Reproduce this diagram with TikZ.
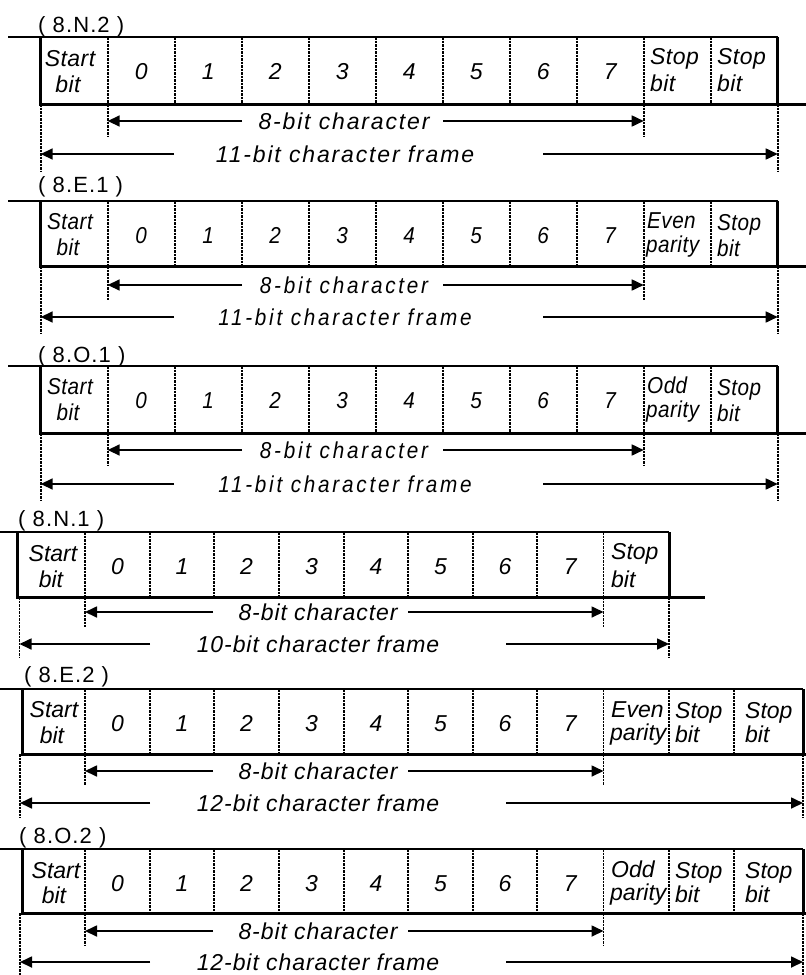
\documentclass[tikz,border=0pt]{standalone}
\usepackage{fontspec}
\setmainfont{Liberation Sans}
\newfontfamily\cellA{Liberation Sans}[LetterSpace=2]
\newfontfamily\arrA{Liberation Sans}[LetterSpace=8]
\newfontfamily\cellB{Liberation Sans}[FakeStretch=0.9,LetterSpace=2]
\newfontfamily\arrB{Liberation Sans}[FakeStretch=0.9,LetterSpace=12]
\newfontfamily\cellC{Liberation Sans}
\newfontfamily\arrC{Liberation Sans}[LetterSpace=4]
\newfontfamily\labF{Liberation Sans}[LetterSpace=5]
\usetikzlibrary{arrows.meta}
\tikzset{
  topline/.style={line width=2pt},
  boxline/.style={line width=3pt},
  divider/.style={line width=1.7pt, dash pattern=on 2.5pt off 1pt},
  arr/.style={line width=1.7pt, -{Triangle[length=12pt,width=11pt]}},
  lbl/.style={anchor=base west, inner sep=0pt, font=\labF\fontsize{22}{24}\selectfont},
  txt/.style={inner sep=0pt, font=\cf},
  atxt/.style={inner sep=0pt, font=\af, anchor=base},
}
\def\cf{\cellA\itshape\fontsize{23}{26}\selectfont}
\def\af{\arrA\itshape\fontsize{23}{26}\selectfont}
\newcommand\digitrow[3]{%
  \foreach \x [remember=\x as \px (initially 0), count=\k] in {#2} {%
    \ifnum\k>2
      \pgfmathtruncatemacro\dg{\k-3}%
      \node[txt, anchor=base] (#1d\dg) at ({(\px+\x)/2}, #3+42.5) {\dg};%
    \fi
  }}
% #1 name, #2 y, #3 left tip x, #4 right tip x, #5 left line start, #6 right line start, #7 text x, #8 text
\newcommand\arrowrow[8]{%
  \node[atxt] (#1t) at (#7, #2+8) {#8};
  \coordinate (#1l) at (#3,#2); \coordinate (#1r) at (#4,#2);
  \coordinate (#1gl) at (#5,#2); \coordinate (#1gr) at (#6,#2);
  \draw[arr] (#1gl) -- (#1l);
  \draw[arr] (#1gr) -- (#1r);
}
% #1 name, #2 in x, #3 L, #4 R, #5 out x, #6 top, #7 bottom
\newcommand\frameline[7]{%
  \coordinate (#1in) at (#2,#6); \coordinate (#1tl) at (#3,#6); \coordinate (#1tr) at (#4,#6);
  \coordinate (#1bl) at (#3,#7); \coordinate (#1br) at (#4,#7); \coordinate (#1out) at (#5,#7);
  \draw[topline] (#1in) -- (#1tr);
  \draw[boxline] (#1tl) -- (#1bl) -- (#1out);
  \draw[boxline] (#1tr) -- (#1br);
}
\begin{document}
\begin{tikzpicture}[x=1pt,y=-1pt]
\useasboundingbox[fill=white] (0,0) rectangle (806,975);

%% ---------------- (8.N.2)
\node[lbl] (s1lab) at (38,32) {( 8.N.2 )};
\frameline{s1}{8}{40.7}{777.7}{806}{37}{104}
\foreach \x in {107.7,174.7,241.7,308.7,375.7,442.7,509.7,576.7,643.7,710.7}
  \draw[divider] (\x,37) -- (\x,104);
\draw[divider] (107.7,104) -- (107.7,136);
\draw[divider] (643.7,104) -- (643.7,136);
\draw[divider] (40.7,104) -- (40.7,171);
\draw[divider] (777.7,104) -- (777.7,171);
\node[txt,anchor=base] (s1st) at (70,66) {Start};
\node[txt,anchor=base] (s1sb) at (68,92) {bit};
\digitrow{s1}{40.7,107.7,174.7,241.7,308.7,375.7,442.7,509.7,576.7,643.7}{37}
\node[txt,anchor=base west] (s1p1) at (650,64) {Stop};
\node[txt,anchor=base west] (s1p2) at (650,91) {bit};
\node[txt,anchor=base west] (s1q1) at (717,64) {Stop};
\node[txt,anchor=base west] (s1q2) at (717,91) {bit};
\arrowrow{s1e}{121}{107.7}{643.7}{242}{443}{344}{8-bit character}
\arrowrow{s1f}{154}{40.7}{777.7}{174}{543}{345}{11-bit character frame}

%% ---------------- (8.E.1)
\def\cf{\cellB\itshape\fontsize{23}{26}\selectfont}
\def\af{\arrB\itshape\fontsize{23}{26}\selectfont}
\node[lbl] (s2lab) at (38,192) {( 8.E.1 )};
\frameline{s2}{8}{40.7}{777.7}{806}{201}{266}
\foreach \x in {107.7,174.7,241.7,308.7,375.7,442.7,509.7,576.7,643.7,710.7}
  \draw[divider] (\x,201) -- (\x,266);
\draw[divider] (107.7,266) -- (107.7,300);
\draw[divider] (643.7,266) -- (643.7,300);
\draw[divider] (40.7,266) -- (40.7,334);
\draw[divider] (777.7,266) -- (777.7,334);
\node[txt,anchor=base] (s2st) at (70,229) {Start};
\node[txt,anchor=base] (s2sb) at (68,255) {bit};
\digitrow{s2}{40.7,107.7,174.7,241.7,308.7,375.7,442.7,509.7,576.7,643.7}{201}
\node[txt,anchor=base west] (s2p1) at (647,228) {Even};
\node[txt,anchor=base west] (s2p2) at (646,252) {parity};
\node[txt,anchor=base west] (s2q1) at (717,230) {Stop};
\node[txt,anchor=base west] (s2q2) at (717,256) {bit};
\arrowrow{s2e}{285}{107.7}{643.7}{242}{443}{344}{8-bit character}
\arrowrow{s2f}{317}{40.7}{777.7}{174}{543}{345}{11-bit character frame}

%% ---------------- (8.O.1)
\node[lbl] (s3lab) at (38,362) {( 8.O.1 )};
\frameline{s3}{8}{40.7}{777.7}{806}{366}{433}
\foreach \x in {107.7,174.7,241.7,308.7,375.7,442.7,509.7,576.7,643.7,710.7}
  \draw[divider] (\x,366) -- (\x,433);
\draw[divider] (107.7,433) -- (107.7,465);
\draw[divider] (643.7,433) -- (643.7,465);
\draw[divider] (40.7,433) -- (40.7,501);
\draw[divider] (777.7,433) -- (777.7,501);
\node[txt,anchor=base] (s3st) at (70,394) {Start};
\node[txt,anchor=base] (s3sb) at (68,420) {bit};
\digitrow{s3}{40.7,107.7,174.7,241.7,308.7,375.7,442.7,509.7,576.7,643.7}{366}
\node[txt,anchor=base west] (s3p1) at (647,393) {Odd};
\node[txt,anchor=base west] (s3p2) at (646,417) {parity};
\node[txt,anchor=base west] (s3q1) at (717,395) {Stop};
\node[txt,anchor=base west] (s3q2) at (717,421) {bit};
\arrowrow{s3e}{450}{107.7}{643.7}{242}{443}{344}{8-bit character}
\arrowrow{s3f}{484}{40.7}{777.7}{174}{543}{345}{11-bit character frame}

%% ---------------- (8.N.1)
\def\cf{\cellC\itshape\fontsize{23}{26}\selectfont}
\def\af{\arrC\itshape\fontsize{23}{26}\selectfont}
\node[lbl] (s4lab) at (18,526) {( 8.N.1 )};
\frameline{s4}{0}{17}{669}{705}{532}{597}
\foreach \x in {85,150,214,279,344,408,473,537,603.5}
  \draw[divider] (\x,532) -- (\x,597);
\draw[divider] (85,597) -- (85,627);
\draw[divider] (603.5,597) -- (603.5,627);
\draw[divider] (19.5,597) -- (19.5,658);
\draw[divider] (669,597) -- (669,658);
\node[txt,anchor=base] (s4st) at (53,561) {Start};
\node[txt,anchor=base] (s4sb) at (51,587) {bit};
\digitrow{s4}{17,85,150,214,279,344,408,473,537,603.5}{532}
\node[txt,anchor=base west] (s4p1) at (611,559) {Stop};
\node[txt,anchor=base west] (s4p2) at (611,587) {bit};
\arrowrow{s4e}{612}{85}{603.5}{213}{408}{318}{8-bit character}
\arrowrow{s4f}{644}{19.5}{669}{150}{506}{318}{10-bit character frame}

%% ---------------- (8.E.2)
\node[lbl] (s5lab) at (24,682) {( 8.E.2 )};
\frameline{s5}{0}{22.7}{803}{806}{689}{754}
\foreach \x in {85,150,214,279,344,408,473,537,603.5,669,734}
  \draw[divider] (\x,689) -- (\x,754);
\draw[divider] (85,754) -- (85,785);
\draw[divider] (603.5,754) -- (603.5,785);
\draw[divider] (20,754) -- (20,818);
\draw[divider] (803,754) -- (803,818);
\node[txt,anchor=base] (s5st) at (54,717) {Start};
\node[txt,anchor=base] (s5sb) at (52,743) {bit};
\digitrow{s5}{22.7,85,150,214,279,344,408,473,537,603.5}{689}
\node[txt,anchor=base west] (s5p1) at (611,717) {Even};
\node[txt,anchor=base west] (s5p2) at (610,740) {parity};
\node[txt,anchor=base west] (s5q1) at (675,718) {Stop};
\node[txt,anchor=base west] (s5q2) at (675,742) {bit};
\node[txt,anchor=base west] (s5r1) at (745,718) {Stop};
\node[txt,anchor=base west] (s5r2) at (745,742) {bit};
\arrowrow{s5e}{771}{85}{603.5}{213}{408}{318}{8-bit character}
\arrowrow{s5f}{803}{20}{803}{150}{506}{318}{12-bit character frame}

%% ---------------- (8.O.2)
\node[lbl] (s6lab) at (19,843) {( 8.O.2 )};
\frameline{s6}{0}{22.7}{803}{806}{849}{913}
\foreach \x in {85,150,214,279,344,408,473,537,603.5,669,734}
  \draw[divider] (\x,849) -- (\x,913);
\draw[divider] (85,913) -- (85,945);
\draw[divider] (603.5,913) -- (603.5,945);
\draw[divider] (20,913) -- (20,975);
\draw[divider] (803,913) -- (803,975);
\node[txt,anchor=base] (s6st) at (56,878) {Start};
\node[txt,anchor=base] (s6sb) at (54,903) {bit};
\digitrow{s6}{22.7,85,150,214,279,344,408,473,537,603.5}{849}
\node[txt,anchor=base west] (s6p1) at (611,877) {Odd};
\node[txt,anchor=base west] (s6p2) at (610,900) {parity};
\node[txt,anchor=base west] (s6q1) at (675,878) {Stop};
\node[txt,anchor=base west] (s6q2) at (675,902) {bit};
\node[txt,anchor=base west] (s6r1) at (745,878) {Stop};
\node[txt,anchor=base west] (s6r2) at (745,902) {bit};
\arrowrow{s6e}{931}{85}{603.5}{213}{408}{318}{8-bit character}
\arrowrow{s6f}{962}{20}{803}{150}{506}{318}{12-bit character frame}
\end{tikzpicture}
\end{document}
